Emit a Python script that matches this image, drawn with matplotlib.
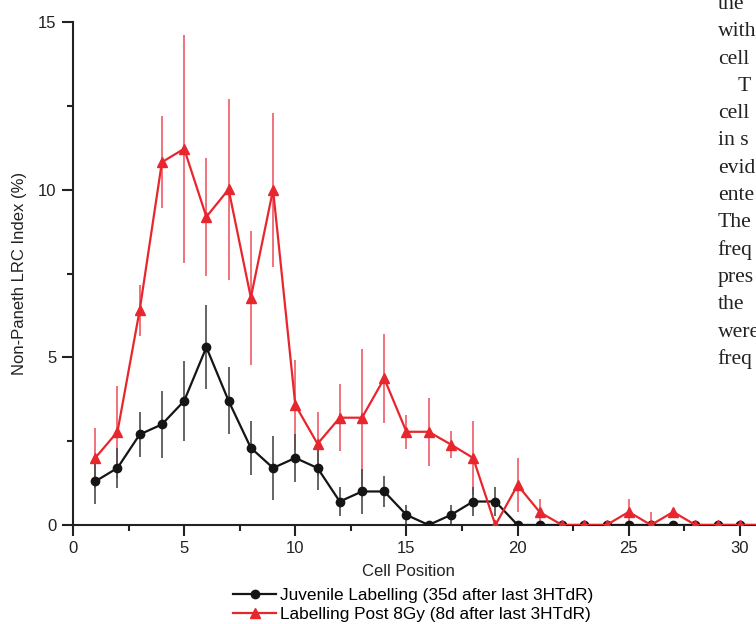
import matplotlib
matplotlib.use("Agg")
import matplotlib.pyplot as plt
from matplotlib.ticker import MultipleLocator

# cell positions along the crypt
positions = list(range(1, 32))

# juvenile labelling (35d after last 3HTdR)
juvenile = [1.3, 1.7, 2.7, 3.0, 3.7, 5.3, 3.7, 2.3, 1.7, 2.0,
            1.7, 0.7, 1.0, 1.0, 0.3, 0.0, 0.3, 0.7, 0.7, 0.0,
            0.0, 0.0, 0.0, 0.0, 0.0, 0.0, 0.0, 0.0, 0.0, 0.0, 0.0]
juvenile_err = [0.67, 0.6, 0.67, 1.0, 1.2, 1.25, 1.0, 0.8, 0.95, 0.72,
                0.65, 0.43, 0.67, 0.45, 0.3, 0.0, 0.3, 0.43, 0.43, 0.0,
                0.0, 0.0, 0.0, 0.0, 0.0, 0.0, 0.0, 0.0, 0.0, 0.0, 0.0]

# labelling post 8Gy (8d after last 3HTdR)
post8gy = [2.0, 2.78, 6.41, 10.82, 11.22, 9.19, 10.01, 6.78, 10.0, 3.58,
           2.42, 3.2, 3.2, 4.37, 2.78, 2.78, 2.4, 2.0, 0.0, 1.19,
           0.38, 0.0, 0.0, 0.0, 0.39, 0.0, 0.39, 0.0, 0.0, 0.0, 0.0]
post8gy_err = [0.9, 1.38, 0.76, 1.37, 3.4, 1.75, 2.7, 2.0, 2.3, 1.34,
               0.95, 1.0, 2.04, 1.33, 0.5, 1.02, 0.4, 1.1, 0.0, 0.8,
               0.4, 0.0, 0.0, 0.0, 0.4, 0.38, 0.0, 0.0, 0.0, 0.0, 0.0]

labels = ["Juvenile Labelling (35d after last 3HTdR)",
          "Labelling Post 8Gy (8d after last 3HTdR)"]

# fragments of the page text cut off at the right edge
side_text = ["the", "with", "cell", "T", "cell", "in s", "evid", "ente",
             "The", "freq", "pres", "the", "were", "freq"]

plt.rcParams['font.family'] = ['Liberation Sans', 'DejaVu Sans']

W, H = 756, 624
fig = plt.figure(figsize=(W / 100, H / 100), dpi=100)
ax = fig.add_axes([73 / W, 1 - 525 / H, (W - 73) / W, (525 - 22) / H])

red = '#e8262e'
black = '#151515'

ax.errorbar(positions, post8gy, yerr=post8gy_err, fmt='none',
            ecolor='#ef5a66', elinewidth=1.2, zorder=1)
ax.errorbar(positions, juvenile, yerr=juvenile_err, fmt='none',
            ecolor='#4a4a4a', elinewidth=1.2, zorder=2)
l1, = ax.plot(positions, juvenile, color=black, lw=1.6, marker='o',
              ms=6, mfc=black, mec=black, zorder=3, label=labels[0])
l2, = ax.plot(positions, post8gy, color=red, lw=1.6, marker='^',
              ms=6.8, mfc=red, mec=red, zorder=4, label=labels[1])

ax.set_xlim(0, (W - 73) / 22.23)
ax.set_ylim(0, 15)
ax.xaxis.set_major_locator(MultipleLocator(5))
ax.xaxis.set_minor_locator(MultipleLocator(2.5))
ax.yaxis.set_major_locator(MultipleLocator(5))
ax.yaxis.set_minor_locator(MultipleLocator(2.5))

for side in ['top', 'right']:
    ax.spines[side].set_visible(False)
for side in ['left', 'bottom']:
    ax.spines[side].set_linewidth(1.5)
    ax.spines[side].set_color('#222222')

ax.tick_params(which='major', direction='out', length=8, width=1.5,
               labelsize=12, color='#222222', labelcolor='#222222')
ax.tick_params(which='minor', direction='out', length=4.3, width=1.5,
               color='#222222')
ax.tick_params(axis='x', which='major', pad=3.5)
ax.tick_params(axis='y', which='major', pad=4)

fig.text(408 / W, 1 - 571 / H, "Cell Position", ha='center', va='center',
         fontsize=12, color='#222222')
fig.text(20 / W, 1 - 273.5 / H, "Non-Paneth LRC Index (%)", rotation=90,
         ha='center', va='center', fontsize=12, color='#222222')

fig.legend(handles=[l1, l2], loc='center left',
           bbox_to_anchor=(233 / W, 1 - 605 / H), bbox_transform=fig.transFigure,
           frameon=False, fontsize=12.4, borderpad=0, borderaxespad=0,
           handlelength=2.5, handletextpad=0.2, labelspacing=0.2)

# page text column on the right
for i, word in enumerate(side_text):
    x = 738 if word == "T" else 717.7
    y = 9 + i * 27.3
    fig.text(x / W, 1 - y / H, word, ha='left', va='baseline',
             fontsize=15.6, family='Liberation Serif', color='#222222')

fig.savefig("out.png", dpi=100, facecolor='white')
